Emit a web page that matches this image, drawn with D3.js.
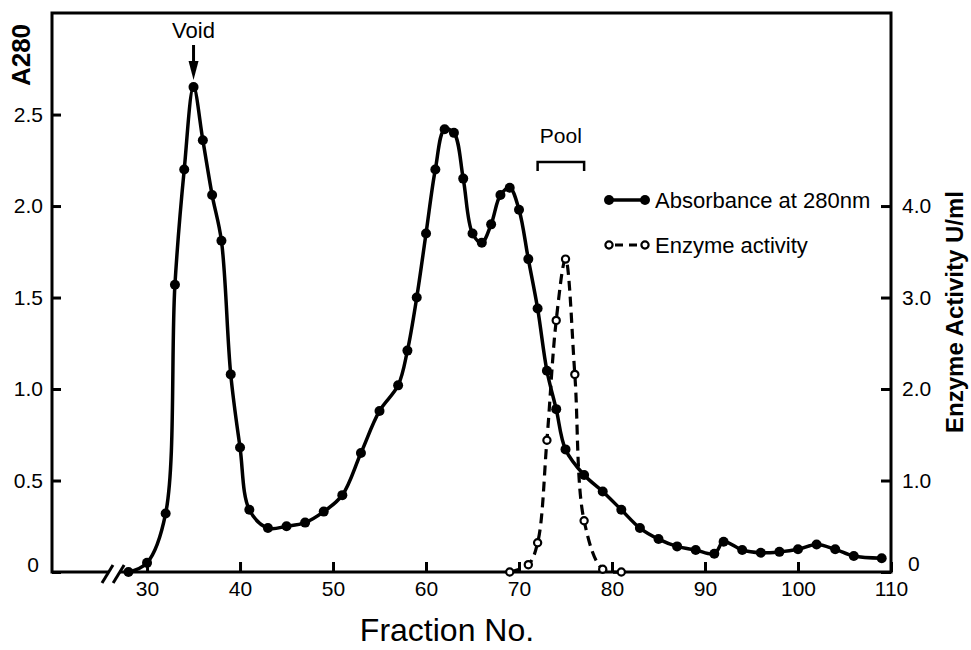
<!DOCTYPE html>
<html>
<head>
<meta charset="utf-8">
<script src="https://cdn.jsdelivr.net/npm/d3@7"></script>
<style>
  body { margin: 0; background: #fff; }
  svg text { font-family: "Liberation Sans", "DejaVu Sans", sans-serif; fill: #000; }
</style>
</head>
<body>
<svg id="chart" width="971" height="650"></svg>
<script>
// absorbance at 280 nm (left axis)
var absFraction = [28, 30, 32, 33, 34, 35, 36, 37, 38, 39, 40, 41, 43, 45, 47, 49, 51, 53, 55, 57, 58, 59,
  60, 61, 62, 63, 64, 65, 66, 67, 68, 69, 70, 71, 72, 73, 74, 75, 77, 79, 81, 83, 85, 87, 89, 91, 92,
  94, 96, 98, 100, 102, 104, 106, 109];
var absValue = [0.0, 0.05, 0.32, 1.57, 2.20, 2.65, 2.36, 2.06, 1.81, 1.08, 0.68, 0.34, 0.24, 0.25, 0.27, 0.33, 0.42, 0.65, 0.88, 1.02, 1.21, 1.50,
  1.85, 2.20, 2.42, 2.40, 2.15, 1.85, 1.80, 1.90, 2.06, 2.10, 1.98, 1.71, 1.44, 1.10, 0.89, 0.67, 0.53, 0.44, 0.34, 0.24, 0.18, 0.14, 0.12, 0.10, 0.165,
  0.12, 0.105, 0.11, 0.124, 0.15, 0.124, 0.087, 0.075];

// enzyme activity U/ml (right axis)
var enzFraction = [69, 71, 72, 73, 74, 75, 76, 77, 79, 81];
var enzValue = [0, 0.08, 0.32, 1.44, 2.75, 3.42, 2.16, 0.56, 0.03, 0];

var xTicks = [30, 40, 50, 60, 70, 80, 90, 100, 110];
var leftTicks = [0, 0.5, 1.0, 1.5, 2.0, 2.5];
var rightTicks = [0, 1.0, 2.0, 3.0, 4.0];
var pool = [72, 77];
var voidFraction = 35;

var svg = d3.select("#chart");
var plotL = 52, plotT = 13, plotR = 891, plotB = 572;

var x = d3.scaleLinear().domain([19.78, 110]).range([plotL, plotR]);
var yL = d3.scaleLinear().domain([0, 3.055]).range([plotB, plotT]);
var yR = d3.scaleLinear().domain([0, 6.11]).range([plotB, plotT]);

var absData = absFraction.map(function(f, i) { return {f: f, v: absValue[i]}; });
var enzData = enzFraction.map(function(f, i) { return {f: f, v: enzValue[i]}; });

var fmt = function(d) { return d == 0 ? "0" : d3.format(".1f")(d); };

// axes, ticks pointing inwards
svg.append("g")
    .attr("transform", "translate(" + plotL + ",0)")
    .call(d3.axisLeft(yL).tickValues(leftTicks).tickSize(-9).tickPadding(9).tickFormat(fmt))
    .call(g => g.select(".domain").remove())
    .call(g => g.selectAll("line").attr("stroke", "#000").attr("stroke-width", 3))
    .call(g => g.selectAll("text").style("font-size", "21px"))
    .call(g => g.selectAll("text").filter(d => d == 0).attr("y", -7).attr("x", -13));

svg.append("g")
    .attr("transform", "translate(" + plotR + ",0)")
    .call(d3.axisRight(yR).tickValues(rightTicks).tickSize(-10).tickPadding(11).tickFormat(fmt))
    .call(g => g.select(".domain").remove())
    .call(g => g.selectAll("line").attr("stroke", "#000").attr("stroke-width", 3))
    .call(g => g.selectAll("text").style("font-size", "21px"))
    .call(g => g.selectAll("text").filter(d => d == 0).attr("y", -8).attr("x", 17));

svg.append("g")
    .attr("transform", "translate(0," + plotB + ")")
    .call(d3.axisBottom(x).tickValues(xTicks).tickSize(-10).tickPadding(9))
    .call(g => g.select(".domain").remove())
    .call(g => g.selectAll("line").attr("stroke", "#000").attr("stroke-width", 3))
    .call(g => g.selectAll("text").style("font-size", "21px"));

// frame with the axis break
var frame = svg.append("g").attr("stroke", "#000").attr("stroke-width", 3).attr("fill", "none");
frame.append("path")
    .attr("d", "M" + x(25.8) + "," + plotB + "H" + plotL + "V" + plotT + "H" + plotR + "V" + plotB + "H" + x(27.0));
[25.8, 27.0].forEach(function(f) {
  frame.append("line")
      .attr("x1", x(f) - 6).attr("y1", plotB + 11)
      .attr("x2", x(f) + 5).attr("y2", plotB - 7);
});

// curves
var absLine = d3.line()
    .curve(d3.curveCatmullRom.alpha(0.5))
    .x(d => x(d.f))
    .y(d => yL(d.v));
var enzLine = d3.line()
    .curve(d3.curveCatmullRom.alpha(0.5))
    .x(d => x(d.f))
    .y(d => yR(d.v));

svg.append("path")
    .datum(enzData)
    .attr("d", enzLine)
    .attr("fill", "none")
    .attr("stroke", "#000")
    .attr("stroke-width", 3.2)
    .attr("stroke-dasharray", "10,6");

svg.append("path")
    .datum(absData)
    .attr("d", absLine)
    .attr("fill", "none")
    .attr("stroke", "#000")
    .attr("stroke-width", 3.5);

svg.selectAll(".absdot")
    .data(absData)
    .enter().append("circle")
      .attr("class", "absdot")
      .attr("cx", d => x(d.f))
      .attr("cy", d => yL(d.v))
      .attr("r", 5)
      .attr("fill", "#000");

svg.selectAll(".enzdot")
    .data(enzData)
    .enter().append("circle")
      .attr("class", "enzdot")
      .attr("cx", d => x(d.f))
      .attr("cy", d => yR(d.v))
      .attr("r", 3.6)
      .attr("fill", "#fff")
      .attr("stroke", "#000")
      .attr("stroke-width", 2.2);

// void marker
var vx = x(voidFraction);
svg.append("text")
    .attr("x", vx).attr("y", 38)
    .attr("text-anchor", "middle")
    .style("font-size", "22px")
    .text("Void");
svg.append("line")
    .attr("x1", vx).attr("x2", vx)
    .attr("y1", 45).attr("y2", 66)
    .attr("stroke", "#000").attr("stroke-width", 3);
svg.append("path")
    .attr("d", "M" + (vx - 5) + ",61L" + (vx + 5) + ",61L" + vx + ",80Z")
    .attr("fill", "#000");

// pool bracket
svg.append("path")
    .attr("d", "M" + x(pool[0]) + ",171V162H" + x(pool[1]) + "V171")
    .attr("fill", "none").attr("stroke", "#000").attr("stroke-width", 2.5);
svg.append("text")
    .attr("x", (x(pool[0]) + x(pool[1])) / 2).attr("y", 143)
    .attr("text-anchor", "middle")
    .style("font-size", "21px")
    .text("Pool");

// legend
var lg = svg.append("g");
lg.append("line").attr("x1", 609).attr("x2", 645).attr("y1", 200).attr("y2", 200)
    .attr("stroke", "#000").attr("stroke-width", 3.5);
[609, 645].forEach(function(cx) {
  lg.append("circle").attr("cx", cx).attr("cy", 200).attr("r", 5).attr("fill", "#000");
});
lg.append("text").attr("x", 655).attr("y", 208).style("font-size", "22px").text("Absorbance at 280nm");

lg.append("line").attr("x1", 609).attr("x2", 645).attr("y1", 245).attr("y2", 245)
    .attr("stroke", "#000").attr("stroke-width", 3).attr("stroke-dasharray", "8,6")
    .attr("stroke-dashoffset", -6);
[609, 645].forEach(function(cx) {
  lg.append("circle").attr("cx", cx).attr("cy", 245).attr("r", 3.6)
      .attr("fill", "#fff").attr("stroke", "#000").attr("stroke-width", 2.2);
});
lg.append("text").attr("x", 655).attr("y", 253).style("font-size", "22px").text("Enzyme activity");

// axis titles
svg.append("text")
    .attr("transform", "translate(30,55) rotate(-90)")
    .attr("text-anchor", "middle")
    .style("font-size", "26px")
    .style("font-weight", "bold")
    .text("A280");

svg.append("text")
    .attr("transform", "translate(963,312) rotate(-90)")
    .attr("text-anchor", "middle")
    .style("font-size", "24px")
    .style("font-weight", "bold")
    .text("Enzyme Activity U/ml");

svg.append("text")
    .attr("x", 447).attr("y", 641)
    .attr("text-anchor", "middle")
    .style("font-size", "32px")
    .text("Fraction No.");
</script>
</body>
</html>
